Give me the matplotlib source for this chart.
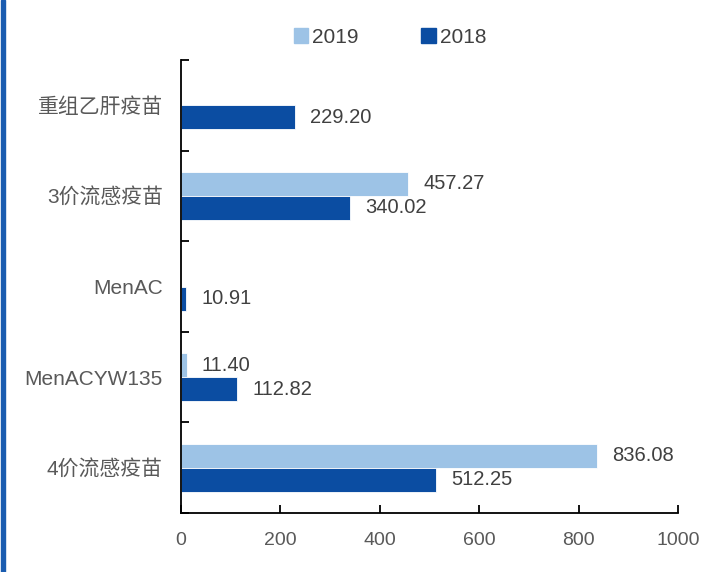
import numpy as np
import matplotlib.pyplot as plt
from matplotlib.patches import Patch, Rectangle

plt.rcParams['font.family'] = ['Liberation Sans', 'Noto Sans CJK SC']

# data
categories = ['重组乙肝疫苗', '3价流感疫苗', 'MenAC', 'MenACYW135', '4价流感疫苗']
v2019 = [np.nan, 457.27, np.nan, 11.40, 836.08]
v2018 = [229.20, 340.02, 10.91, 112.82, 512.25]
xticks = [0, 200, 400, 600, 800, 1000]

c2019 = '#9DC3E6'
c2018 = '#0B4DA2'

fig = plt.figure(figsize=(7.03, 5.72), dpi=100)
ax = fig.add_axes([0.2575, 0.1031, 0.7070, 0.792])

y = np.arange(len(categories))
h = 0.265
ax.barh(y - h / 2, v2019, height=h, color=c2019, edgecolor='white', linewidth=0.6, label='2019')
ax.barh(y + h / 2, v2018, height=h, color=c2018, edgecolor='white', linewidth=0.6, label='2018')

#%%
# value labels
for i in range(len(categories)):
    if not np.isnan(v2019[i]):
        ax.annotate(f'{v2019[i]:.2f}', (v2019[i], y[i] - h / 2), xytext=(11, 0),
                    textcoords='offset points', va='center', ha='left', fontsize=14.5, color='#404040')
    if not np.isnan(v2018[i]):
        ax.annotate(f'{v2018[i]:.2f}', (v2018[i], y[i] + h / 2), xytext=(11, 0),
                    textcoords='offset points', va='center', ha='left', fontsize=14.5, color='#404040')

ax.set_xlim(0, 1000)
ax.set_ylim(len(categories) - 0.5, -0.5)
ax.set_xticks(xticks)
ax.set_xticklabels([str(t) for t in xticks], fontsize=14, color='#595959')
ax.tick_params(axis='x', direction='in', length=6, width=1.3, pad=14)

# category ticks on boundaries, labels at centres
ax.set_yticks(np.arange(len(categories) + 1) - 0.5)
ax.set_yticklabels([])
ax.tick_params(axis='y', which='major', direction='in', length=6, width=1.3)
ax.set_yticks(y, minor=True)
ax.set_yticklabels(categories, minor=True, fontsize=15, color='#595959')
ax.tick_params(axis='y', which='minor', length=0, pad=13)

for s in ['top', 'right']:
    ax.spines[s].set_visible(False)
for s in ['left', 'bottom']:
    ax.spines[s].set_linewidth(1.3)
    ax.spines[s].set_color('black')

handles = [Patch(color=c2019, label='2019'), Patch(color=c2018, label='2018')]
fig.legend(handles=handles, loc='center', bbox_to_anchor=(0.555, 0.935), ncol=2, frameon=False,
           fontsize=15, handlelength=0.7, handleheight=0.7, handletextpad=0.2, columnspacing=3.0,
           labelcolor='#404040')

# blue border on the left
fig.add_artist(Rectangle((0.002, 0), 0.005, 1, transform=fig.transFigure, color='#1A5CB0'))

fig.savefig('out.png', dpi=100)
